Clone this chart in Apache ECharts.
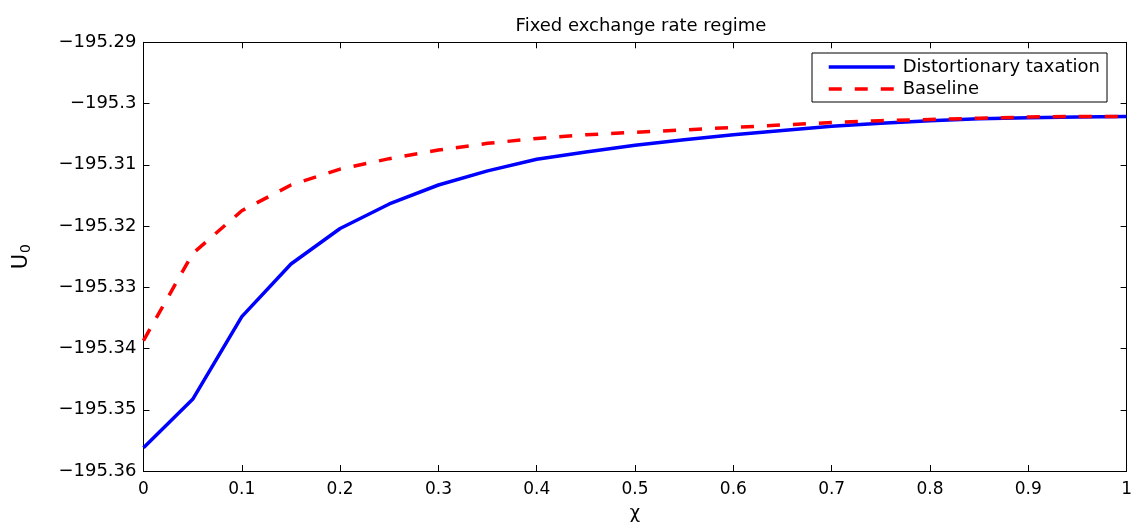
<!DOCTYPE html>
<html><head><meta charset="utf-8">
<script src="https://cdn.jsdelivr.net/npm/echarts@6/dist/echarts.min.js"></script>
<style>html,body{margin:0;padding:0;background:#fff}#c{width:1135px;height:527px}</style>
</head><body><div id="c"></div>
<script>
const chi = [0,0.05,0.1,0.15,0.2,0.25,0.3,0.35,0.4,0.45,0.5,0.55,0.6,0.65,0.7,0.75,0.8,0.85,0.9,0.95,1];
const distortionary = [-195.3562,-195.3483,-195.3348,-195.3262,-195.3204,-195.3164,-195.3133,-195.3110,-195.3091,-195.3079,-195.3068,-195.3059,-195.3051,-195.3044,-195.3037,-195.3032,-195.3028,-195.3025,-195.3023,-195.3022,-195.3021];
const baseline = [-195.3387,-195.3245,-195.3175,-195.3133,-195.3107,-195.3090,-195.3076,-195.3065,-195.3057,-195.3051,-195.3047,-195.3043,-195.3039,-195.3035,-195.3031,-195.3028,-195.3026,-195.3024,-195.3022,-195.3021,-195.3021];
const yTicks = [-195.36,-195.35,-195.34,-195.33,-195.32,-195.31,-195.3,-195.29];
const seriesNames = ['Distortionary taxation','Baseline'];
const title = 'Fixed exchange rate regime';

const font = 'DejaVu Sans, Verdana, sans-serif';
const chart = echarts.init(document.getElementById('c'));
const fmtY = v => String(+v.toFixed(2)).replace('-', '\u2212');
const axisCommon = {
  axisLine:{show:true,onZero:false,lineStyle:{color:'#000',width:1}},
  axisTick:{show:true,inside:true,length:6,lineStyle:{color:'#000'}},
  splitLine:{show:false}
};
chart.setOption({
  animation:false,
  backgroundColor:'#fff',
  title:{text:title,left:636,textAlign:'center',top:12,textStyle:{fontFamily:font,fontSize:18,fontWeight:'normal',color:'#000'}},
  grid:{left:143.5,right:8,top:42.3,bottom:49.7,containLabel:false},
  legend:{
    data:seriesNames, orient:'vertical', right:28, top:53,
    backgroundColor:'#fff', borderColor:'#000', borderWidth:1,
    padding:[5,7,4,15], itemGap:4, itemWidth:66, itemHeight:18,
    itemStyle:{opacity:0},
    lineStyle:{width:3.5},
    textStyle:{fontFamily:font,fontSize:18,color:'#000',padding:[0,0,0,3]}
  },
  xAxis:[
    Object.assign({type:'value',min:0,max:1,interval:0.1,
      name:'\u03c7',nameLocation:'middle',nameGap:33,
      nameTextStyle:{fontFamily:font,fontSize:18,color:'#000'},
      axisLabel:{fontFamily:font,fontSize:17,color:'#000',margin:10,formatter:v=>String(+v.toFixed(1))}},axisCommon),
    Object.assign({type:'value',min:0,max:1,interval:0.1,position:'top',axisLabel:{show:false}},axisCommon)
  ],
  yAxis:[
    Object.assign({type:'value',min:-195.36,max:-195.29,interval:0.01,
      name:'{u|U}{s|0}',nameLocation:'middle',nameGap:110,nameRotate:90,
      nameTextStyle:{fontFamily:font,color:'#000',rich:{u:{fontFamily:font,fontSize:21,color:'#000'},s:{fontFamily:font,fontSize:14,color:'#000',verticalAlign:'bottom',padding:[10,0,0,1]}}},
      axisLabel:{fontFamily:font,fontSize:18,color:'#000',margin:7,formatter:fmtY}},axisCommon),
    Object.assign({type:'value',min:-195.36,max:-195.29,interval:0.01,position:'right',axisLabel:{show:false}},axisCommon)
  ],
  series:[
    {name:seriesNames[0],type:'line',symbol:'none',data:chi.map((x,i)=>[x,distortionary[i]]),
     lineStyle:{color:'#0000ff',width:3.5},itemStyle:{color:'#0000ff'},z:2},
    {name:seriesNames[1],type:'line',symbol:'none',data:chi.map((x,i)=>[x,baseline[i]]),
     lineStyle:{color:'#ff0000',width:3.5,type:[13,13]},itemStyle:{color:'#ff0000'},z:3}
  ]
});
</script></body></html>
